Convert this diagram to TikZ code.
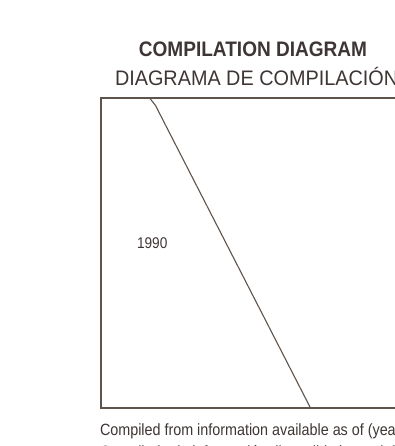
\documentclass[tikz,border=0pt]{standalone}
\usepackage{fontspec}
\setmainfont{Liberation Sans}
\newfontfamily\condreg[FakeStretch=0.88]{Liberation Sans}
\newfontfamily\condregb[FakeStretch=0.944]{Liberation Sans}
\newfontfamily\condbold[FakeStretch=0.907]{Liberation Sans Bold}
\definecolor{ink}{HTML}{3E3634}
\definecolor{rule}{HTML}{5E544C}
\begin{document}
\begin{tikzpicture}[x=1pt,y=-1pt,
  frameline/.style={draw=rule,line width=1.3pt},
  boundline/.style={draw=rule,line width=1.1pt},
  txt/.style={text=ink,inner sep=0pt,outer sep=0pt}]
\useasboundingbox (0,0) rectangle (395,446);
\fill[white] (0,0) rectangle (395,446);
\node[txt,font=\condbold\fontsize{21}{23}\selectfont,anchor=base] (t1) at (253,57) {COMPILATION DIAGRAM};
\node[txt,font=\condregb\fontsize{21}{23}\selectfont,anchor=base west] (t2) at (115,86) {DIAGRAMA DE COMPILACIÓN};
\draw[frameline] (420,98) -- (101,98) -- (101,408) -- (420,408);
\coordinate (a) at (150,98.5);
\coordinate (b) at (155.5,105.5);
\coordinate (c) at (310.5,408);
\draw[boundline] (a) -- (b) -- (c);
\node[txt,font=\condreg\fontsize{15.5}{17}\selectfont,anchor=base west] (y) at (137,248) {1990};
\node[txt,font=\condreg\fontsize{16.3}{18}\selectfont,anchor=base west] (n1) at (100,435) {Compiled from information available as of (year)};
\node[txt,font=\condreg\fontsize{16.3}{18}\selectfont,anchor=base west] (n2) at (100,457) {Compilado de información disponible hasta (año)};
\end{tikzpicture}
\end{document}
